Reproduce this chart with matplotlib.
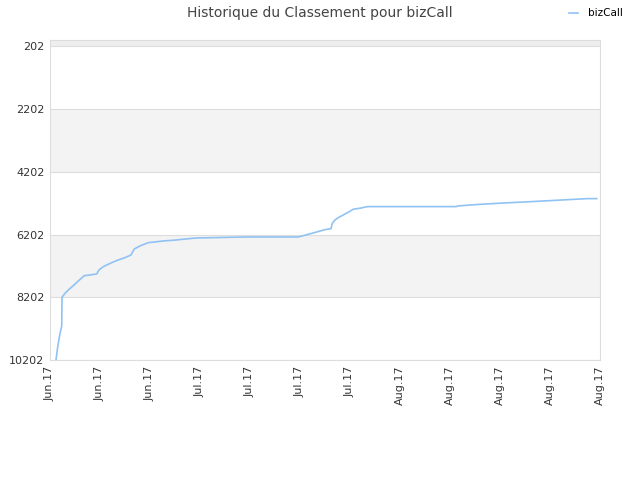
import matplotlib
matplotlib.use("Agg")
import matplotlib.pyplot as plt
import matplotlib.dates as mdates
import numpy as np
import datetime as dt

start_date = dt.datetime(2017, 6, 14)
tick_step_days = 7
n_ticks = 12

# day offsets from start_date and rank values
day_offsets = [0.84, 1.08, 1.36, 1.64, 1.68, 2.1, 2.56, 3.26, 3.96, 4.8, 5.6, 6.54, 6.86,
               7.46, 8.16, 8.86, 9.56, 10.5, 11.34, 11.58, 11.8, 12.6, 13.3, 13.76, 14.7,
               15.86, 17.26, 18.66, 20.06, 20.76, 27.76, 34.76, 35.46, 36.16, 36.86, 37.7,
               38.5, 39.34, 39.52, 39.9, 40.36, 41.06, 41.76, 42.46, 43.4, 44.42, 56.84,
               57.16, 58.94, 61.84, 64.54, 67.34, 70.0, 72.56, 75.22, 76.54]
ranks = [10202, 9778, 9405, 9118, 8202, 8075, 7970, 7832, 7683, 7513, 7491, 7459, 7332,
         7226, 7150, 7076, 7013, 6939, 6853, 6748, 6662, 6566, 6502, 6461, 6438,
         6407, 6384, 6352, 6320, 6311, 6279, 6279, 6237, 6193, 6151, 6097,
         6046, 6014, 5842, 5737, 5663, 5577, 5491, 5395, 5363, 5312, 5312,
         5290, 5258, 5217, 5185, 5153, 5121, 5089, 5057, 5057]
y_ticks = [202, 2202, 4202, 6202, 8202, 10202]
series_name = "bizCall"
title = "Historique du Classement pour bizCall"

fig = plt.figure(figsize=(6.4, 4.8), dpi=100)
ax = fig.add_axes([50/640, 120/480, 550/640, 320/480])

x0 = mdates.date2num(start_date)
xs = x0 + np.array(day_offsets)

# bands
ax.axhspan(0, 202, color="#eeeeee", zorder=0, lw=0)
ax.axhspan(2202, 4202, color="#f3f3f3", zorder=0, lw=0)
ax.axhspan(6202, 8202, color="#f3f3f3", zorder=0, lw=0)
for t in y_ticks:
    ax.axhline(t, color="#dddddd", lw=0.8, zorder=1)

ax.plot(xs, ranks, color="#90c2f3", lw=1.2, zorder=3, label=series_name)

ax.set_ylim(10202, 0)
ax.set_xlim(x0, x0 + tick_step_days * (n_ticks - 1))
ax.set_yticks(y_ticks)
ax.set_yticklabels([str(t) for t in y_ticks])
xt = [x0 + tick_step_days * k for k in range(n_ticks)]
ax.set_xticks(xt)
ax.xaxis.set_major_formatter(mdates.DateFormatter("%b.%y"))
plt.setp(ax.get_xticklabels(), rotation=90)
ax.tick_params(axis="both", length=0, labelsize=8, colors="#333333", pad=4)
for s in ax.spines.values():
    s.set_color("#dddddd")
    s.set_linewidth(0.8)

fig.text(0.5, 0.988, title, ha="center", va="top", fontsize=10, color="#444444")
ax.legend(loc="upper right", bbox_to_anchor=(1.0 + 32/550, 1.0 + 41/320), frameon=False,
          fontsize=7.5, handlelength=0.9, handletextpad=0.9)

fig.savefig("out.png", dpi=100)
